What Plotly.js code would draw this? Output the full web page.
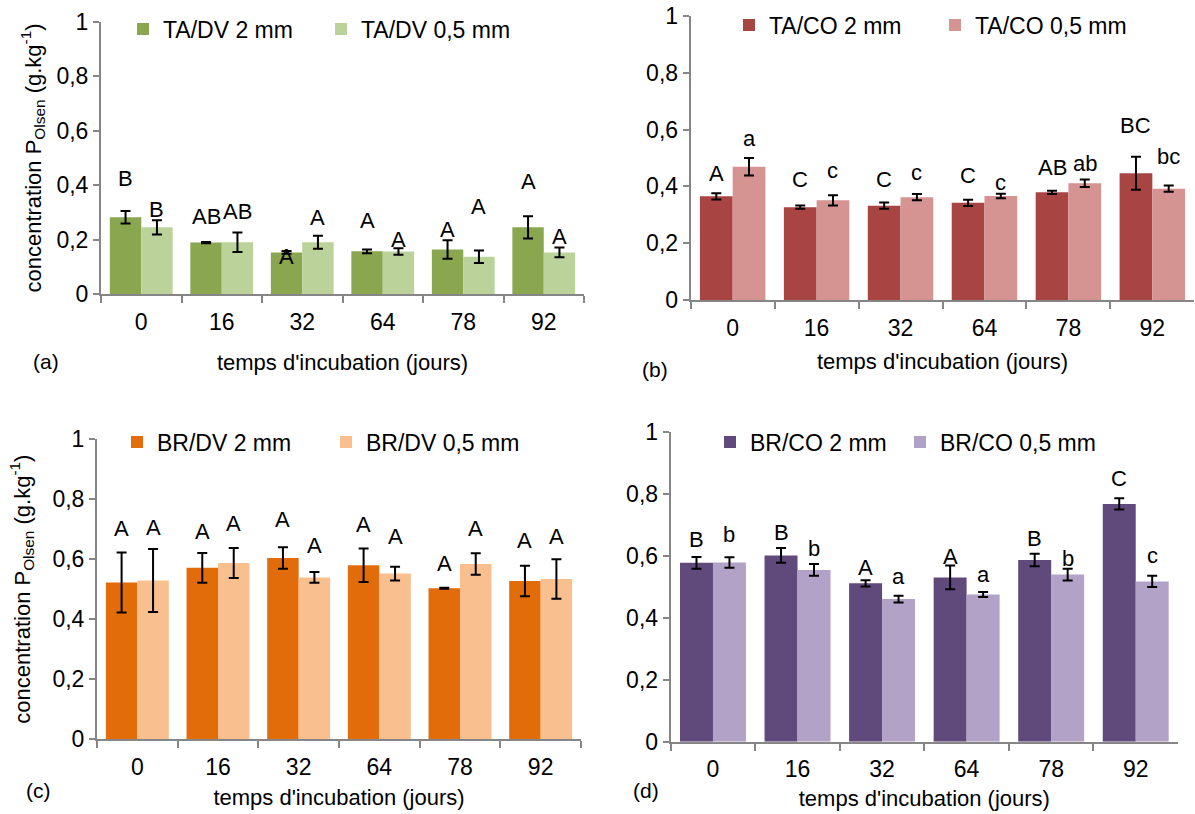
<!DOCTYPE html>
<html><head><meta charset="utf-8">
<script src="https://cdn.plot.ly/plotly-3.0.1.min.js"></script>
<style>html,body{margin:0;padding:0;background:#fff}#chart{width:1195px;height:814px}</style>
</head><body><div id="chart"></div>
<script>
// ---------- data ----------
const days = ['0', '16', '32', '64', '78', '92'];

// (a) TA/DV
const taDv2 = [0.282, 0.189, 0.153, 0.157, 0.164, 0.245];
const taDv2Err = [0.023, 0.002, 0.005, 0.007, 0.034, 0.041];
const taDv05 = [0.245, 0.190, 0.190, 0.156, 0.137, 0.153];
const taDv05Err = [0.026, 0.036, 0.024, 0.012, 0.023, 0.018];
const taDv2Letters = ['B', 'AB', 'A', 'A', 'A', 'A'];
const taDv05Letters = ['B', 'AB', 'A', 'A', 'A', 'A'];
const taDv2LetterY = [0.425, 0.284, 0.137, 0.270, 0.238, 0.413];
const taDv05LetterY = [0.309, 0.305, 0.282, 0.201, 0.321, 0.213];

// (b) TA/CO
const taCo2 = [0.365, 0.327, 0.332, 0.342, 0.379, 0.446];
const taCo2Err = [0.011, 0.006, 0.011, 0.011, 0.006, 0.058];
const taCo05 = [0.469, 0.351, 0.362, 0.366, 0.411, 0.392];
const taCo05Err = [0.031, 0.018, 0.011, 0.008, 0.013, 0.011];
const taCo2Letters = ['A', 'C', 'C', 'C', 'AB', 'BC'];
const taCo05Letters = ['a', 'c', 'c', 'c', 'ab', 'bc'];
const taCo2LetterY = [0.447, 0.424, 0.424, 0.439, 0.467, 0.614];
const taCo05LetterY = [0.567, 0.455, 0.449, 0.414, 0.481, 0.505];

// (c) BR/DV
const brDv2 = [0.522, 0.571, 0.604, 0.580, 0.503, 0.527];
const brDv2Err = [0.100, 0.050, 0.036, 0.056, 0.002, 0.051];
const brDv05 = [0.529, 0.587, 0.539, 0.552, 0.584, 0.534];
const brDv05Err = [0.105, 0.050, 0.018, 0.023, 0.036, 0.066];
const brDv2Letters = ['A', 'A', 'A', 'A', 'A', 'A'];
const brDv05Letters = ['A', 'A', 'A', 'A', 'A', 'A'];
const brDv2LetterY = [0.703, 0.692, 0.734, 0.716, 0.586, 0.664];
const brDv05LetterY = [0.705, 0.720, 0.644, 0.675, 0.703, 0.675];

// (d) BR/CO
const brCo2 = [0.577, 0.601, 0.511, 0.530, 0.586, 0.767];
const brCo2Err = [0.019, 0.024, 0.010, 0.038, 0.020, 0.018];
const brCo05 = [0.578, 0.554, 0.460, 0.475, 0.539, 0.517];
const brCo05Err = [0.017, 0.019, 0.011, 0.008, 0.019, 0.018];
const brCo2Letters = ['B', 'B', 'A', 'A', 'B', 'C'];
const brCo05Letters = ['b', 'b', 'a', 'a', 'b', 'c'];
const brCo2LetterY = [0.651, 0.674, 0.562, 0.597, 0.656, 0.849];
const brCo05LetterY = [0.669, 0.624, 0.532, 0.538, 0.591, 0.600];

const yTitle = 'concentration P<sub>Olsen</sub> (g.kg<sup>-1</sup>)';
const xTitle = "temps d'incubation (jours)";

// ---------- layout helpers ----------
const W = 1195, H = 814;
const FONT = 'Liberation Sans, Arial, sans-serif';
const FS = 22;       // axis titles
const TICK_FS = 23;  // tick labels
const LEG_FS = 23;   // legend
const LET_FS = 22;   // significance letters
const AXIS_GREY = '#868686';
const BARGAP = 0.22;
const half = (1 - BARGAP) / 4;
const px = v => v / W;
const py = v => 1 - v / H;

const panels = [
  {id: '', name2: 'TA/DV 2 mm', name05: 'TA/DV 0,5 mm', v2: taDv2, e2: taDv2Err, v05: taDv05, e05: taDv05Err,
   c2: '#8AA64F', c05: '#BCD29B', l2: taDv2Letters, l05: taDv05Letters, ly2: taDv2LetterY, ly05: taDv05LetterY,
   box: [101, 584, 22, 294], leg: ['legend', 'legend2'], legX: [123, 321], legY: 29, tag: '(a)', tagPos: [46, 362],
   ytitle: true, ySt: 9, xSt: 21},
  {id: '2', name2: 'TA/CO 2 mm', name05: 'TA/CO 0,5 mm', v2: taCo2, e2: taCo2Err, v05: taCo05, e05: taCo05Err,
   c2: '#A84543', c05: '#D59391', l2: taCo2Letters, l05: taCo05Letters, ly2: taCo2LetterY, ly05: taCo05LetterY,
   box: [690.7, 1194.3, 16, 300], leg: ['legend3', 'legend4'], legX: [729, 935], legY: 25, tag: '(b)', tagPos: [655, 369],
   ytitle: false, xSt: 14},
  {id: '3', name2: 'BR/DV 2 mm', name05: 'BR/DV 0,5 mm', v2: brDv2, e2: brDv2Err, v05: brDv05, e05: brDv05Err,
   c2: '#E36C0A', c05: '#F9BF8F', l2: brDv2Letters, l05: brDv05Letters, ly2: brDv2LetterY, ly05: brDv05LetterY,
   box: [97, 581, 439.3, 739], leg: ['legend5', 'legend6'], legX: [117, 326], legY: 442, tag: '(c)', tagPos: [38, 790],
   ytitle: true, ySt: 16, xSt: 11},
  {id: '4', name2: 'BR/CO 2 mm', name05: 'BR/CO 0,5 mm', v2: brCo2, e2: brCo2Err, v05: brCo05, e05: brCo05Err,
   c2: '#604A7B', c05: '#B3A2C7', l2: brCo2Letters, l05: brCo05Letters, ly2: brCo2LetterY, ly05: brCo05LetterY,
   box: [670.7, 1178, 431.7, 741.7], leg: ['legend7', 'legend8'], legX: [710, 900], legY: 442, tag: '(d)', tagPos: [646, 790],
   ytitle: false, xSt: 9}
];

const traces = [];
const annotations = [];
const layout = {
  width: W, height: H,
  margin: {l: 0, r: 0, t: 0, b: 0},
  paper_bgcolor: '#fff', plot_bgcolor: 'rgba(0,0,0,0)',
  font: {family: FONT, size: FS, color: '#000'},
  separators: ',.',
  barmode: 'group', bargap: BARGAP, bargroupgap: 0,
  showlegend: true,
  annotations: annotations
};

panels.forEach(p => {
  const xa = 'x' + p.id, ya = 'y' + p.id;
  const errStyle = {type: 'data', visible: true, color: '#000', thickness: 2, width: 5};
  traces.push({
    type: 'bar', name: p.name2, x: days, y: p.v2, xaxis: xa, yaxis: ya, legend: p.leg[0],
    marker: {color: p.c2}, error_y: Object.assign({array: p.e2}, errStyle), hoverinfo: 'y'
  });
  traces.push({
    type: 'bar', name: p.name05, x: days, y: p.v05, xaxis: xa, yaxis: ya, legend: p.leg[1],
    marker: {color: p.c05}, error_y: Object.assign({array: p.e05}, errStyle), hoverinfo: 'y'
  });

  const [x0, x1, yTop, yBot] = p.box;
  layout['xaxis' + p.id] = {
    domain: [px(x0), px(x1)], anchor: ya, type: 'category',
    showline: true, linecolor: AXIS_GREY, linewidth: 2,
    ticks: 'outside', tickson: 'boundaries', ticklen: 7, tickwidth: 2, tickcolor: AXIS_GREY,
    showgrid: false, zeroline: false, automargin: false, fixedrange: true,
    tickfont: {size: TICK_FS, color: '#000'}, ticklabelstandoff: 6,
    title: {text: xTitle, font: {size: FS, color: '#000'}, standoff: p.xSt}
  };
  const yax = {
    domain: [py(yBot), py(yTop)], anchor: xa, range: [0, 1], dtick: 0.2, tick0: 0,
    showline: true, linecolor: AXIS_GREY, linewidth: 2,
    ticks: 'outside', ticklen: 6, tickwidth: 2, tickcolor: AXIS_GREY,
    showgrid: false, zeroline: false, automargin: false, fixedrange: true,
    tickfont: {size: TICK_FS, color: '#000'}
  };
  if (p.ytitle) yax.title = {text: yTitle, font: {size: FS, color: '#000'}, standoff: p.ySt};
  layout['yaxis' + p.id] = yax;
  p.leg.forEach((lg, k) => {
    layout[lg] = {
      x: px(p.legX[k]), xanchor: 'left', y: py(p.legY), yanchor: 'middle',
      orientation: 'h', bgcolor: 'rgba(0,0,0,0)', borderwidth: 0,
      font: {size: LEG_FS, color: '#000'}, itemwidth: 30
    };
  });

  days.forEach((d, i) => {
    annotations.push({xref: xa, yref: ya, x: i - half, y: p.ly2[i], text: p.l2[i], showarrow: false,
      xanchor: 'center', yanchor: 'middle', font: {size: LET_FS, color: '#000'}});
    annotations.push({xref: xa, yref: ya, x: i + half, y: p.ly05[i], text: p.l05[i], showarrow: false,
      xanchor: 'center', yanchor: 'middle', font: {size: LET_FS, color: '#000'}});
  });
  annotations.push({xref: 'paper', yref: 'paper', x: px(p.tagPos[0]), y: py(p.tagPos[1]), text: p.tag,
    showarrow: false, xanchor: 'center', yanchor: 'middle', font: {size: 21, color: '#000'}});
});

Plotly.newPlot('chart', traces, layout, {staticPlot: true, displayModeBar: false});
</script>
</body></html>
